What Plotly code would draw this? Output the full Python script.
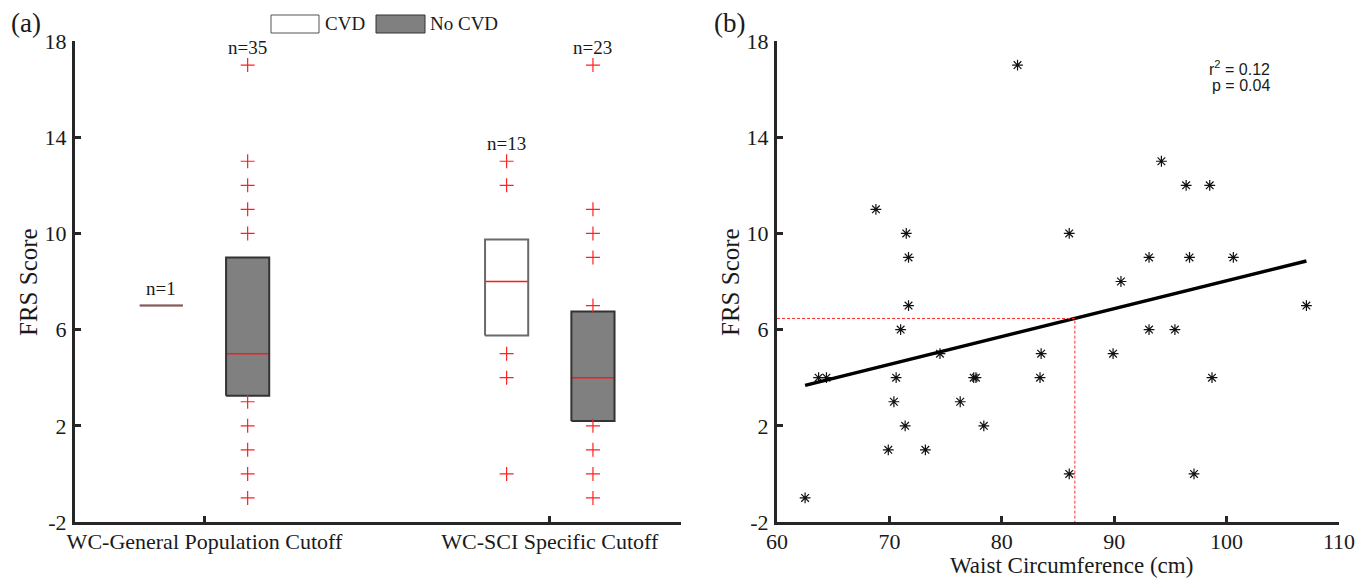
import plotly.graph_objects as go

# ---------------- data: panel (a) ----------------
categories = ["WC-General Population Cutoff", "WC-SCI Specific Cutoff"]
category_pos = [1, 2]

cvd_q1 = [7.0, 5.75]
cvd_median = [7.0, 8.0]
cvd_q3 = [7.0, 9.75]
cvd_outliers = [[], [13, 12, 5, 4, 0]]
cvd_n = [1, 13]

nocvd_q1 = [3.25, 2.2]
nocvd_median = [5.0, 4.0]
nocvd_q3 = [9.0, 6.75]
nocvd_outliers = [[17, 13, 12, 11, 10, 3, 2, 1, 0, -1],
                  [17, 11, 10, 9, 7, 2, 1, 0, -1]]
nocvd_n = [35, 23]

y_ticks = [-2, 2, 6, 10, 14, 18]

# ---------------- data: panel (b) ----------------
wc = [62.5, 63.7, 64.4, 68.8, 69.9, 70.4, 70.6, 71.0, 71.4, 71.5, 71.7, 71.7,
      73.2, 74.5, 76.3, 77.5, 77.7, 78.4, 81.4, 83.4, 83.5, 86.0, 86.0, 89.9,
      90.6, 93.1, 93.1, 94.2, 95.4, 96.4, 96.7, 97.1, 98.5, 98.7, 100.6, 107.1]
frs = [-1, 4, 4, 11, 1, 3, 4, 6, 2, 10, 9, 7,
       1, 5, 3, 4, 4, 2, 17, 4, 5, 0, 10, 5,
       8, 9, 6, 13, 6, 12, 9, 0, 12, 4, 9, 7]
fit_slope = 0.116
fit_intercept = -3.57
wc_cutoff = 86.5
r2_label = "r<sup>2</sup> = 0.12"
p_label = "p = 0.04"
x_ticks_b = [60, 70, 80, 90, 100, 110]

# ---------------- style ----------------
PAGE_MARGIN = 8          # default body margin of the html page
W, H = 1372 - 2 * PAGE_MARGIN, 586 - 2 * PAGE_MARGIN
SERIF = "Liberation Serif"
SANS = "Liberation Sans"
AX = "#262626"
TXT = "#1a1a1a"
offset = 0.125
box_w = 0.125


def px_x(p):
    return (p - PAGE_MARGIN) / W


def px_y(p):
    return 1 - (p - PAGE_MARGIN) / H


def rect_path(centers, lo, hi, w):
    xs, ys = [], []
    for c, a, b in zip(centers, lo, hi):
        xs += [c - w / 2, c + w / 2, c + w / 2, c - w / 2, c - w / 2, None]
        ys += [a, a, b, b, a, None]
    return xs, ys


def hline_path(centers, vals, w):
    xs, ys = [], []
    for c, v in zip(centers, vals):
        xs += [c - w / 2, c + w / 2, None]
        ys += [v, v, None]
    return xs, ys


fig = go.Figure()

groups = [
    dict(sign=-1, q1=cvd_q1, med=cvd_median, q3=cvd_q3, out=cvd_outliers,
         n=cvd_n, fill="#ffffff", edge="#6a6a6a"),
    dict(sign=1, q1=nocvd_q1, med=nocvd_median, q3=nocvd_q3, out=nocvd_outliers,
         n=nocvd_n, fill="#808080", edge="#333333"),
]

annotations = []
for g in groups:
    centers = [c + g["sign"] * offset for c in category_pos]
    bx, by = rect_path(centers, g["q1"], g["q3"], box_w)
    fig.add_trace(go.Scatter(x=bx, y=by, mode="lines", fill="toself",
                             fillcolor=g["fill"], line=dict(width=0, color=g["fill"]),
                             hoverinfo="skip", showlegend=False,
                             xaxis="x", yaxis="y"))
    mx, my = hline_path(centers, g["med"], box_w)
    fig.add_trace(go.Scatter(x=mx, y=my, mode="lines",
                             line=dict(color="#ff1a1a", width=1.5),
                             showlegend=False, xaxis="x", yaxis="y"))
    fig.add_trace(go.Scatter(x=bx, y=by, mode="lines",
                             line=dict(color=g["edge"], width=2, simplify=False),
                             showlegend=False, xaxis="x", yaxis="y"))
    ox, oy = [], []
    for c, vals in zip(centers, g["out"]):
        ox += [c] * len(vals)
        oy += vals
    if ox:
        fig.add_trace(go.Scatter(x=ox, y=oy, mode="markers",
                                 marker=dict(symbol="cross-thin", size=10, color="#ff2020",
                                             line=dict(color="#ff2020", width=1.2)),
                                 showlegend=False, xaxis="x", yaxis="y"))
    for c, q3, vals, n in zip(centers, g["q3"], g["out"], g["n"]):
        top = max([q3] + list(vals))
        annotations.append(dict(x=c, y=top + 0.72, xref="x", yref="y",
                                xanchor="center", yanchor="middle",
                                text=f"n={n}", showarrow=False,
                                font=dict(family=SERIF, size=19, color=TXT)))

# ---------------- panel (b) ----------------
fig.add_trace(go.Scatter(x=wc, y=frs, mode="markers",
                         marker=dict(symbol="asterisk-open", size=9, color="#111111",
                                     line=dict(color="#111111", width=1.2)),
                         showlegend=False, xaxis="x2", yaxis="y2"))
fit_x = [min(wc), max(wc)]
fit_y = [fit_intercept + fit_slope * v for v in fit_x]
fig.add_trace(go.Scatter(x=fit_x, y=fit_y, mode="lines",
                         line=dict(color="#000000", width=3.5),
                         showlegend=False, xaxis="x2", yaxis="y2"))
cut_y = fit_intercept + fit_slope * wc_cutoff
fig.add_trace(go.Scatter(x=[x_ticks_b[0], wc_cutoff, wc_cutoff],
                         y=[cut_y, cut_y, y_ticks[0]], mode="lines",
                         line=dict(color="#ff2a2a", width=1, dash="3px,2px"),
                         showlegend=False, xaxis="x2", yaxis="y2"))


def paper_text(x, y, text, size, family=SERIF, xanchor="center", angle=0):
    return dict(x=px_x(x), y=px_y(y), xref="paper", yref="paper", text=text,
                xanchor=xanchor, yanchor="middle", textangle=angle,
                showarrow=False, font=dict(family=family, size=size, color=TXT))


annotations += [
    paper_text(26, 23, "(a)", 27),
    paper_text(729, 23, "(b)", 27),
    paper_text(29, 282, "FRS Score", 25, angle=-90),
    paper_text(731, 282, "FRS Score", 25, angle=-90),
    paper_text(1071, 565, "Waist Circumference (cm)", 23),
    paper_text(1272, 68, r2_label, 16, family=SANS, xanchor="right"),
    paper_text(1272, 86, p_label, 16, family=SANS, xanchor="right"),
    paper_text(323, 24, "CVD", 19, xanchor="left"),
    paper_text(428, 24, "No CVD", 19, xanchor="left"),
]

shapes = [
    dict(type="rect", xref="paper", yref="paper", x0=px_x(271), x1=px_x(319),
         y0=px_y(33), y1=px_y(15), fillcolor="#ffffff",
         line=dict(color="#555555", width=1)),
    dict(type="rect", xref="paper", yref="paper", x0=px_x(376), x1=px_x(425),
         y0=px_y(33), y1=px_y(15), fillcolor="#808080",
         line=dict(color="#333333", width=1)),
]

axis_common = dict(showline=True, linewidth=3, linecolor=AX, ticks="inside",
                   ticklen=6, tickwidth=3, tickcolor=AX, showgrid=False,
                   zeroline=False, automargin=False,
                   tickfont=dict(family=SERIF, size=22, color=TXT))

y_dom = [px_y(522), px_y(41)]
y_ticktext = [str(v) for v in y_ticks]

fig.update_layout(
    width=W, height=H,
    margin=dict(l=0, r=0, t=0, b=0),
    paper_bgcolor="white", plot_bgcolor="white",
    showlegend=False,
    xaxis=dict(domain=[px_x(75), px_x(681)], range=[0.625, 2.38],
               tickvals=category_pos, ticktext=categories, anchor="y",
               ticklabelstandoff=-2, **axis_common),
    yaxis=dict(domain=y_dom, range=[y_ticks[0], y_ticks[-1]], tickvals=y_ticks,
               ticktext=y_ticktext, anchor="x", ticklabelstandoff=1, **axis_common),
    xaxis2=dict(domain=[px_x(777), px_x(1339)], range=[x_ticks_b[0], x_ticks_b[-1]],
                tickvals=x_ticks_b, ticktext=[str(v) for v in x_ticks_b],
                anchor="y2", ticklabelstandoff=-2, **axis_common),
    yaxis2=dict(domain=y_dom, range=[y_ticks[0], y_ticks[-1]], tickvals=y_ticks,
                ticktext=y_ticktext, anchor="x2", ticklabelstandoff=1, **axis_common),
    annotations=annotations,
    shapes=shapes,
)

fig.write_html("out.html")
